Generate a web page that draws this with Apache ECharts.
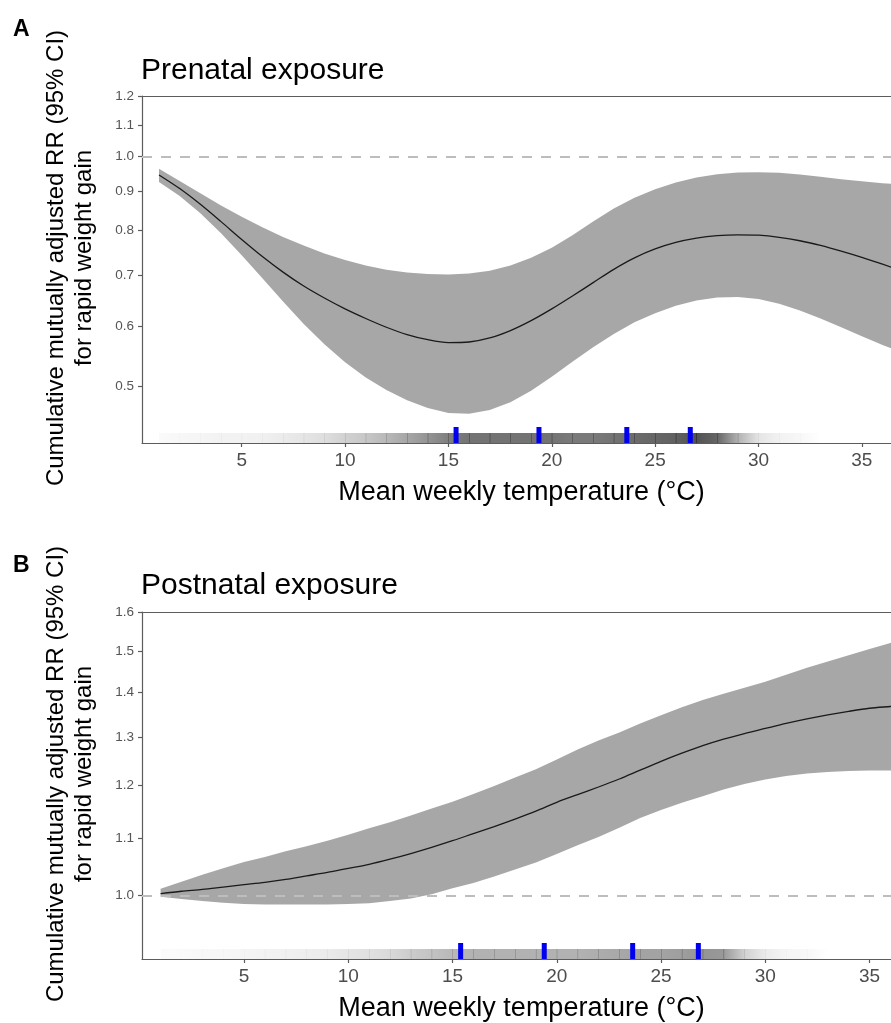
<!DOCTYPE html>
<html>
<head>
<meta charset="utf-8">
<script src="https://cdn.jsdelivr.net/npm/echarts@6/dist/echarts.min.js"></script>
<style>
html, body { margin: 0; padding: 0; background: #fff; overflow: hidden; }
#chart { width: 891px; height: 1023px; }
</style>
</head>
<body>
<div id="chart"></div>
<script>
// temperature grid (°C) shared by both panels
const temps = [1, 2, 3, 4, 5, 6, 7, 8, 9, 10, 11, 12, 13, 14, 15, 16, 17, 18, 19, 20,
  21, 22, 23, 24, 25, 26, 27, 28, 29, 30, 31, 32, 33, 34, 35, 36, 37];

// A: prenatal exposure
const rrPre = [0.946, 0.908, 0.866, 0.822, 0.779, 0.740, 0.706, 0.677, 0.653, 0.632,
  0.614, 0.598, 0.585, 0.576, 0.571, 0.572, 0.579, 0.592, 0.610, 0.632,
  0.657, 0.684, 0.712, 0.737, 0.757, 0.772, 0.782, 0.788, 0.790, 0.789,
  0.784, 0.776, 0.765, 0.752, 0.738, 0.723, 0.708];
const upPre = [0.964, 0.929, 0.895, 0.863, 0.834, 0.808, 0.785, 0.765, 0.747, 0.732,
  0.720, 0.711, 0.705, 0.702, 0.701, 0.703, 0.709, 0.720, 0.737, 0.760,
  0.789, 0.822, 0.855, 0.883, 0.906, 0.925, 0.939, 0.948, 0.953, 0.954,
  0.952, 0.947, 0.941, 0.934, 0.928, 0.923, 0.919];
const loPre = [0.926, 0.888, 0.843, 0.794, 0.743, 0.693, 0.646, 0.604, 0.568, 0.538,
  0.514, 0.495, 0.480, 0.469, 0.462, 0.461, 0.466, 0.477, 0.494, 0.515,
  0.539, 0.563, 0.586, 0.607, 0.624, 0.638, 0.648, 0.654, 0.655, 0.651,
  0.642, 0.629, 0.614, 0.598, 0.582, 0.567, 0.553];

// B: postnatal exposure
const rrPost = [1.003, 1.007, 1.010, 1.014, 1.018, 1.022, 1.027, 1.033, 1.039, 1.046,
  1.053, 1.062, 1.072, 1.083, 1.095, 1.108, 1.121, 1.135, 1.150, 1.167,
  1.182, 1.197, 1.213, 1.231, 1.249, 1.266, 1.282, 1.296, 1.308, 1.319,
  1.330, 1.340, 1.349, 1.357, 1.364, 1.368, 1.372];
const upPost = [1.011, 1.023, 1.035, 1.046, 1.057, 1.066, 1.076, 1.085, 1.095, 1.106,
  1.118, 1.129, 1.142, 1.155, 1.168, 1.183, 1.199, 1.216, 1.233, 1.253,
  1.274, 1.293, 1.310, 1.330, 1.348, 1.366, 1.383, 1.397, 1.411, 1.425,
  1.442, 1.459, 1.474, 1.489, 1.505, 1.520, 1.535];
const loPost = [0.998, 0.994, 0.991, 0.988, 0.986, 0.985, 0.985, 0.985, 0.985, 0.986,
  0.987, 0.991, 0.995, 1.002, 1.012, 1.021, 1.032, 1.044, 1.056, 1.071,
  1.087, 1.102, 1.119, 1.137, 1.152, 1.166, 1.179, 1.192, 1.203, 1.212,
  1.219, 1.224, 1.227, 1.229, 1.230, 1.230, 1.230];

// exposure distribution rug (shade per degree) and percentile marks
const rugTemps = [1, 2, 3, 4, 5, 6, 7, 8, 9, 10, 11, 12, 13, 14, 15, 16, 17, 18, 19, 20,
  21, 22, 23, 24, 25, 26, 27, 28, 29, 30, 31, 32, 33];
const rugPre = [0.02, 0.03, 0.04, 0.05, 0.05, 0.06, 0.08, 0.10, 0.13, 0.18,
  0.22, 0.28, 0.35, 0.42, 0.50, 0.55, 0.55, 0.55, 0.55, 0.55,
  0.52, 0.52, 0.55, 0.58, 0.60, 0.62, 0.68, 0.60, 0.30, 0.10,
  0.05, 0.03, 0.0];
const rugPost = [0.02, 0.02, 0.03, 0.03, 0.04, 0.05, 0.06, 0.07, 0.08, 0.10,
  0.12, 0.15, 0.20, 0.24, 0.28, 0.30, 0.30, 0.30, 0.30, 0.30,
  0.30, 0.32, 0.34, 0.36, 0.36, 0.38, 0.42, 0.40, 0.18, 0.08,
  0.04, 0.03, 0.0];
const pctPre = [15.37, 19.38, 23.63, 26.7];
const pctPost = [15.39, 19.4, 23.64, 26.79];

const yTicksPre = [0.5, 0.6, 0.7, 0.8, 0.9, 1.0, 1.1, 1.2];
const yTicksPost = [1.0, 1.1, 1.2, 1.3, 1.4, 1.5, 1.6];
const xTicks = [5, 10, 15, 20, 25, 30, 35];

const FONT = "'Liberation Sans', Arial, Helvetica, sans-serif";
const AXIS_COLOR = "#5c5c5c";
const yTitle = "Cumulative mutually adjusted RR (95% CI)\nfor rapid weight gain";

function bottomX(gridIndex, min, max) {
  return {
    gridIndex, type: "value", min, max, position: "bottom",
    name: "Mean weekly temperature (°C)",
    nameLocation: "middle",
    nameGap: 36,
    nameTextStyle: { color: "#000", fontSize: 27, fontFamily: FONT, padding: [0, 0, 0, 10] },
    axisLine: { lineStyle: { color: AXIS_COLOR, width: 1.2 } },
    axisTick: { length: 4, customValues: xTicks, lineStyle: { color: AXIS_COLOR, width: 1.2 } },
    axisLabel: { customValues: xTicks, margin: 8, color: "#4d4d4d", fontSize: 19, fontFamily: FONT },
    splitLine: { show: false },
  };
}

function topX(gridIndex, min, max) {
  return {
    gridIndex, type: "value", min, max, position: "top",
    axisLine: { lineStyle: { color: AXIS_COLOR, width: 1.2 } },
    axisTick: { show: false },
    axisLabel: { show: false },
    splitLine: { show: false },
  };
}

function logY(gridIndex, min, max, ticks) {
  return {
    gridIndex, type: "log", logBase: 10, min, max,
    axisLine: { show: true, lineStyle: { color: AXIS_COLOR, width: 1.2 } },
    axisTick: { show: true, length: 4, customValues: ticks, lineStyle: { color: AXIS_COLOR, width: 1.2 } },
    axisLabel: {
      customValues: ticks, margin: 8, color: "#555", fontSize: 13.5, fontFamily: FONT,
      formatter: (v) => Number(v).toFixed(1),
    },
    splitLine: { show: false },
    minorSplitLine: { show: false },
  };
}

function rugSeries(xAxisIndex, yAxisIndex, shades) {
  return {
    type: "custom", xAxisIndex, yAxisIndex, z: 1, silent: true,
    data: rugTemps.map((t, i) => [t, shades[i]]),
    renderItem(params, api) {
      const i = params.dataIndex;
      if (i >= rugTemps.length - 1) return null;
      const cs = params.coordSys;
      const x0 = api.coord([rugTemps[i], 1])[0];
      const x1 = api.coord([rugTemps[i + 1], 1])[0];
      return {
        type: "rect",
        shape: { x: x0, y: cs.y + cs.height - 10, width: x1 - x0 + 0.5, height: 10 },
        style: {
          fill: new echarts.graphic.LinearGradient(0, 0, 1, 0, [
            { offset: 0, color: `rgba(0,0,0,${shades[i]})` },
            { offset: 1, color: `rgba(0,0,0,${shades[i + 1]})` },
          ]),
        },
      };
    },
    markLine: {
      silent: true,
      symbol: ["none", "none"],
      label: { show: false },
      lineStyle: { color: "#bdbdbd", type: [10, 9], width: 2 },
      data: [{ yAxis: 1 }],
    },
  };
}

function bandSeries(xAxisIndex, yAxisIndex, lo, hi) {
  return {
    type: "custom", xAxisIndex, yAxisIndex, z: 3, silent: true,
    data: temps.map((t, i) => [t, lo[i], hi[i]]),
    encode: { x: 0, y: [1, 2] },
    renderItem(params, api) {
      if (params.dataIndex !== 0) return null;
      const top = temps.map((t, i) => api.coord([t, hi[i]]));
      const bottom = temps.map((t, i) => api.coord([t, lo[i]])).reverse();
      return {
        type: "polygon",
        shape: { points: top.concat(bottom) },
        style: { fill: "rgba(0,0,0,0.345)" },
      };
    },
  };
}

function pctSeries(xAxisIndex, yAxisIndex, pcts) {
  return {
    type: "custom", xAxisIndex, yAxisIndex, z: 5, silent: true,
    data: pcts.map((p) => [p, 1]),
    renderItem(params, api) {
      const cs = params.coordSys;
      const x = api.coord([api.value(0), 1])[0];
      return {
        type: "rect",
        shape: { x: x - 2.5, y: cs.y + cs.height - 16, width: 5, height: 16 },
        style: { fill: "#0000ee" },
      };
    },
  };
}

function lineSeries(xAxisIndex, yAxisIndex, values) {
  return {
    type: "line", xAxisIndex, yAxisIndex, z: 4, silent: true,
    data: temps.map((t, i) => [t, values[i]]),
    showSymbol: false,
    smooth: 0.3,
    lineStyle: { color: "#1a1a1a", width: 1.3 },
  };
}

function yName(y) {
  return {
    type: "text", x: 70, y, rotation: Math.PI / 2,
    style: {
      text: yTitle, fill: "#000", fontSize: 24, fontFamily: FONT,
      align: "center", verticalAlign: "middle", lineHeight: 28,
    },
  };
}

const chart = echarts.init(document.getElementById("chart"), null, { renderer: "canvas" });
chart.setOption({
  animation: false,
  backgroundColor: "#fff",
  grid: [
    { left: 142, top: 96, width: 749, height: 347 },
    { left: 142, top: 612, width: 749, height: 347 },
  ],
  xAxis: [
    bottomX(0, 0.177, 36.41),
    topX(0, 0.177, 36.41),
    bottomX(1, 0.108, 36.03),
    topX(1, 0.108, 36.03),
  ],
  yAxis: [
    logY(0, 0.422, 1.2, yTicksPre),
    logY(1, 0.9, 1.6, yTicksPost),
  ],
  graphic: [
    { type: "text", left: 13, top: 18, style: { text: "A", fill: "#000", fontSize: 23, fontWeight: "bold", fontFamily: FONT } },
    { type: "text", left: 13, top: 554, style: { text: "B", fill: "#000", fontSize: 23, fontWeight: "bold", fontFamily: FONT } },
    { type: "text", left: 141, top: 56, style: { text: "Prenatal exposure", fill: "#000", fontSize: 30, fontFamily: FONT } },
    { type: "text", left: 141, top: 571, style: { text: "Postnatal exposure", fill: "#000", fontSize: 30, fontFamily: FONT } },
    yName(258),
    yName(774),
  ],
  series: [
    rugSeries(0, 0, rugPre),
    bandSeries(0, 0, loPre, upPre),
    lineSeries(0, 0, rrPre),
    pctSeries(0, 0, pctPre),
    rugSeries(2, 1, rugPost),
    bandSeries(2, 1, loPost, upPost),
    lineSeries(2, 1, rrPost),
    pctSeries(2, 1, pctPost),
  ],
});
</script>
</body>
</html>
